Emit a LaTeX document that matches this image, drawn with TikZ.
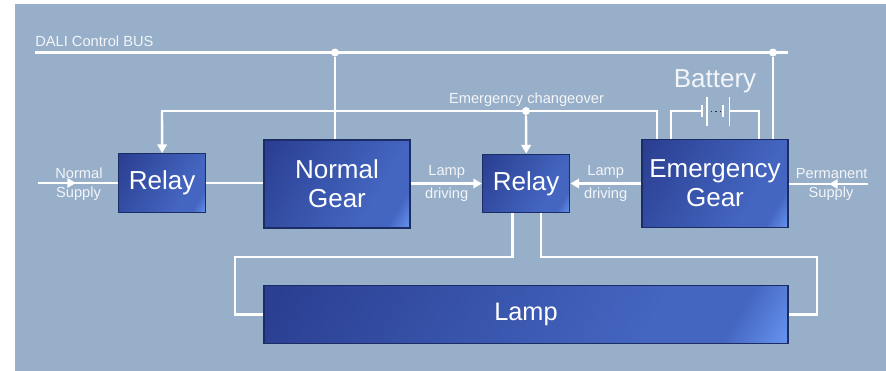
\documentclass[tikz,border=0pt]{standalone}
\usepackage{fontspec}
\setmainfont{Liberation Sans}
\usetikzlibrary{arrows.meta}
\definecolor{bgblue}{HTML}{97AFC9}
\definecolor{boxedge}{HTML}{1C2D66}
\definecolor{gearA}{HTML}{2B3F92}
\definecolor{gearB}{HTML}{3550A6}
\definecolor{gearC}{HTML}{4465C0}
\definecolor{gearD}{HTML}{6593EE}
\pgfdeclarehorizontalshading{gearshade}{100bp}{
 color(0bp)=(gearA);
 color(18bp)=(gearA);
 color(38bp)=(gearB);
 color(66bp)=(gearC);
 color(76bp)=(gearC);
 color(84bp)=(gearD);
 color(100bp)=(gearD)}
\tikzset{
 x=0.75pt,y=-0.75pt,
 wire/.style={draw=white,line width=1.8pt},
 arrowwire/.style={wire,-{Triangle[length=6.5pt,width=7pt]}},
 gear/.style={draw=boxedge,line width=0.8pt,shading=gearshade,shading angle=-30,text=white,align=center,inner sep=0pt,font=\fontsize{19.5}{21.5}\selectfont},
 smalllabel/.style={text=white!88!bgblue,inner sep=0pt,font=\fontsize{11}{12}\selectfont},
 dotj/.style={circle,fill=white,inner sep=0pt,minimum size=6pt},
 plate/.style={draw=white,line width=1.4pt},
}
\begin{document}
\begin{tikzpicture}
\useasboundingbox (0,0) rectangle (886,371);
\fill[white] (0,0) rectangle (886,371);
\fill[bgblue] (15,4) rectangle (886,371);

% boxes
\node[gear,minimum width=65.5pt,minimum height=44pt] (relayA) at (162.2,183) {\raisebox{1pt}{Relay}};
\node[gear,minimum width=109.5pt,minimum height=66pt] (normal) at (337,184) {Normal\\Gear};
\node[gear,minimum width=65.5pt,minimum height=44pt] (relayB) at (526.2,183.5) {\raisebox{1pt}{Relay}};
\node[gear,minimum width=109.5pt,minimum height=65.5pt] (emerg) at (715,183.5) {Emergency\\Gear};
\node[gear,minimum width=393pt,minimum height=43.5pt,font=\fontsize{19}{22}\selectfont] (lamp) at (526,314.5) {\raisebox{1pt}{Lamp}};

% bus
\coordinate (busL) at (35,52.5);
\coordinate (busR) at (788,52.5);
\node[dotj] (busA) at (335,52.5) {};
\node[dotj] (busB) at (773,52.5) {};
\draw[wire] (busL) -- (busR);
\node[smalllabel,anchor=west] (dali) at (35,41) {DALI Control BUS};
\draw[wire] (busA) -- (busA |- normal.north);
\draw[wire] (busB) -- (busB |- emerg.north);

% changeover
\node[dotj] (chg) at (526,111) {};
\coordinate (chgR) at (657,111);
\coordinate (chgL) at (162,111);
\draw[wire] (chgR |- emerg.north) -- (chgR) -- (chgL) -- ++(0,30);
\draw[arrowwire] (chgL) -- (relayA.north);
\draw[arrowwire] (chg) -- (relayB.north);
\node[smalllabel] (chgtxt) at (526.5,100) {Emergency changeover};

% supply and driving
\coordinate (normIn) at (38,183);
\coordinate (permIn) at (868,184);
\coordinate (normMid) at (76,183);
\coordinate (permMid) at (829,184);
\draw[wire] (normIn) -- (relayA.west |- normIn);
\draw[arrowwire] (normIn) -- (normMid);
\draw[wire] (permIn) -- (emerg.east |- permIn);
\draw[arrowwire] (permIn) -- (permMid);
\draw[wire] (relayA.east) -- (normal.west |- relayA.east);
\draw[arrowwire] (normal.east |- relayB.west) -- (relayB.west);
\draw[arrowwire] (emerg.west |- relayB.east) -- (relayB.east);

\node[smalllabel] (n1) at (79,173) {Normal};
\node[smalllabel] (n2) at (78.5,194) {Supply};
\node[smalllabel] (p1) at (831.7,173.5) {Permanent};
\node[smalllabel] (p2) at (831,194) {Supply};
\node[smalllabel] (l1) at (446.7,171.5) {Lamp};
\node[smalllabel] (l2) at (446.7,195) {driving};
\node[smalllabel] (l3) at (605.7,171.5) {Lamp};
\node[smalllabel] (l4) at (605.7,195) {driving};

% lamp wires
\coordinate (lA) at (512.3,256.7);
\coordinate (lB) at (235,256.7);
\coordinate (lC) at (541,256.7);
\coordinate (lD) at (817,256.7);
\draw[wire] (lA |- relayB.south) -- (lA) -- (lB) -- (lB |- lamp.west) -- (lamp.west);
\draw[wire] (lC |- relayB.south) -- (lC) -- (lD) -- (lD |- lamp.east) -- (lamp.east);

% battery
\coordinate (bA) at (671,111);
\coordinate (bB) at (759,111);
\coordinate (p1a) at (701.7,111);
\coordinate (p4a) at (729.5,111);
\draw[wire] (bA |- emerg.north) -- (bA) -- (p1a);
\draw[wire] (bB |- emerg.north) -- (bB) -- (p4a);
\draw[plate] (701.7,105) -- (701.7,117);
\draw[plate] (706.7,97) -- (706.7,126);
\draw[plate] (723,105) -- (723,117);
\draw[plate] (729.5,97) -- (729.5,126);
\draw[draw=boxedge,line width=0.7pt,dash pattern=on 1pt off 2.5pt] (710.5,111) -- (720.5,111);
\node[text=white!88!bgblue,inner sep=0pt,font=\fontsize{19.5}{24}\selectfont] (bat) at (715,81.5) {Battery};
\end{tikzpicture}
\end{document}
